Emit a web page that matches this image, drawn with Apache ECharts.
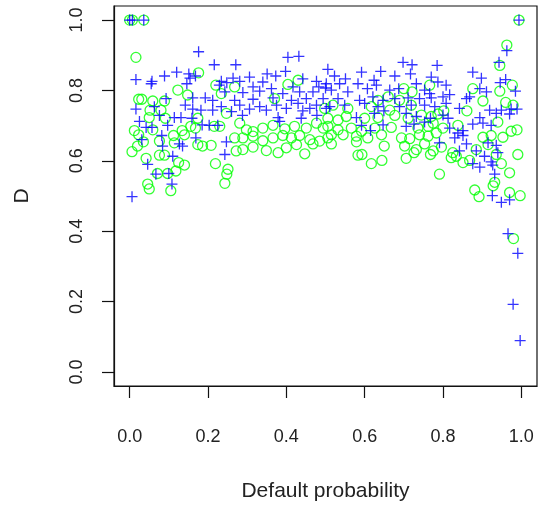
<!DOCTYPE html>
<html>
<head>
<meta charset="utf-8">
<script src="https://cdn.jsdelivr.net/npm/echarts@6/dist/echarts.min.js"></script>
<style>
  html, body { margin: 0; padding: 0; background: #fff; }
  #chart { width: 541px; height: 507px; }
</style>
</head>
<body>
<div id="chart"></div>
<script>
// Tick positions shared by both axes
const xTicks = [0, 0.2, 0.4, 0.6, 0.8, 1.0];
const yTicks = [0, 0.2, 0.4, 0.6, 0.8, 1.0];

// Blue "+" points: [default probability, D]
const bluePoints = [
  [0.000,1],[0.007,1],[0.036,1],[0.994,1],
  [0.176,0.910],[0.216,0.873],[0.016,0.831],[0.057,0.826],[0.089,0.841],[0.120,0.852],
  [0.151,0.847],[0.154,0.835],[0.168,0.841],[0.146,0.819],[0.229,0.815],[0.093,0.777],
  [0.161,0.779],[0.193,0.779],[0.212,0.772],[0.016,0.747],[0.063,0.754],[0.142,0.758],
  [0.161,0.747],[0.182,0.744],[0.212,0.744],[0.076,0.729],[0.114,0.723],[0.131,0.723],
  [0.159,0.721],[0.025,0.712],[0.042,0.695],[0.057,0.695],[0.097,0.701],[0.185,0.702],
  [0.203,0.701],[0.225,0.701],[0.082,0.672],[0.169,0.665],[0.031,0.660],[0.084,0.642],
  [0.127,0.648],[0.135,0.642],[0.110,0.613],[0.046,0.590],[0.067,0.562],[0.100,0.564],
  [0.108,0.534],[0.006,0.498],[0.055,0.819],
  [0.404,0.894],[0.432,0.897],[0.271,0.873],[0.398,0.854],[0.351,0.847],[0.373,0.841],
  [0.264,0.835],[0.306,0.838],[0.234,0.826],[0.248,0.822],[0.281,0.826],[0.340,0.824],
  [0.442,0.833],[0.477,0.826],[0.506,0.860],[0.315,0.810],[0.362,0.805],[0.417,0.810],
  [0.483,0.810],[0.500,0.807],[0.243,0.796],[0.289,0.794],[0.332,0.798],[0.391,0.791],
  [0.434,0.796],[0.468,0.796],[0.268,0.772],[0.315,0.775],[0.366,0.779],[0.413,0.772],
  [0.451,0.777],[0.494,0.777],[0.234,0.754],[0.281,0.758],[0.332,0.754],[0.375,0.758],
  [0.400,0.749],[0.430,0.763],[0.477,0.758],[0.260,0.740],[0.306,0.747],[0.349,0.744],
  [0.442,0.742],[0.460,0.749],[0.502,0.749],[0.288,0.729],[0.379,0.723],[0.438,0.721],
  [0.478,0.729],[0.247,0.654],[0.243,0.618],[0.383,0.712],
  [0.698,0.880],[0.721,0.873],[0.592,0.852],[0.641,0.854],[0.677,0.841],[0.717,0.847],
  [0.523,0.841],[0.551,0.833],[0.624,0.829],[0.502,0.819],[0.536,0.819],[0.583,0.819],
  [0.630,0.815],[0.732,0.819],[0.785,0.871],[0.515,0.801],[0.557,0.796],[0.607,0.805],
  [0.664,0.801],[0.687,0.805],[0.753,0.801],[0.532,0.777],[0.587,0.772],[0.621,0.782],
  [0.647,0.772],[0.677,0.777],[0.711,0.779],[0.740,0.777],[0.770,0.779],[0.511,0.754],
  [0.549,0.758],[0.600,0.763],[0.634,0.754],[0.689,0.754],[0.719,0.758],[0.753,0.758],
  [0.579,0.723],[0.625,0.735],[0.649,0.742],[0.706,0.735],[0.732,0.726],[0.768,0.721],
  [0.592,0.701],[0.615,0.686],[0.647,0.702],[0.706,0.698],[0.726,0.704],[0.753,0.710],
  [0.963,0.913],[0.943,0.880],[0.876,0.852],[0.898,0.835],[0.770,0.838],[0.787,0.824],
  [0.808,0.815],[0.960,0.831],[0.946,0.822],[0.894,0.805],[0.911,0.796],[0.985,0.798],
  [0.766,0.791],[0.800,0.782],[0.817,0.788],[0.860,0.777],[0.868,0.782],[0.779,0.754],
  [0.808,0.763],[0.842,0.749],[0.919,0.744],[0.949,0.744],[0.974,0.747],[0.989,0.747],
  [0.800,0.730],[0.813,0.721],[0.894,0.723],[0.936,0.735],[0.970,0.733],[0.817,0.693],
  [0.838,0.679],[0.876,0.704],[0.902,0.707],[0.923,0.701],[0.851,0.686],[0.791,0.651],
  [0.830,0.665],[0.851,0.672],[0.860,0.648],[0.915,0.651],[0.936,0.644],[0.842,0.628],
  [0.885,0.628],[0.906,0.613],[0.923,0.597],[0.940,0.623],[0.876,0.592],[0.894,0.582],
  [0.927,0.588],[0.932,0.562],[0.926,0.501],[0.949,0.482],[0.970,0.489],[0.966,0.393],
  [0.991,0.337],[0.979,0.192],[0.997,0.089]
];

// Green "o" points: [default probability, D]
const greenPoints = [
  [0.000,1],[0.007,1],[0.036,1],[0.994,1],
  [0.016,0.894],[0.176,0.850],[0.123,0.801],[0.023,0.775],[0.031,0.775],[0.059,0.770],
  [0.089,0.770],[0.148,0.787],[0.220,0.815],[0.052,0.744],[0.080,0.744],[0.050,0.723],
  [0.091,0.721],[0.174,0.721],[0.156,0.698],[0.168,0.693],[0.134,0.686],[0.012,0.686],
  [0.059,0.688],[0.023,0.674],[0.112,0.672],[0.140,0.674],[0.216,0.698],[0.035,0.654],
  [0.076,0.656],[0.114,0.651],[0.174,0.646],[0.186,0.642],[0.208,0.644],[0.020,0.642],
  [0.006,0.626],[0.076,0.616],[0.089,0.616],[0.042,0.607],[0.125,0.595],[0.140,0.588],
  [0.219,0.592],[0.071,0.564],[0.097,0.564],[0.118,0.571],[0.046,0.534],[0.050,0.520],
  [0.105,0.515],
  [0.430,0.829],[0.404,0.817],[0.268,0.810],[0.234,0.791],[0.370,0.777],[0.247,0.735],
  [0.230,0.698],[0.281,0.707],[0.298,0.688],[0.315,0.683],[0.340,0.693],[0.366,0.701],
  [0.396,0.691],[0.421,0.698],[0.451,0.693],[0.477,0.707],[0.494,0.693],[0.506,0.698],
  [0.268,0.665],[0.289,0.665],[0.315,0.670],[0.340,0.657],[0.366,0.665],[0.391,0.672],
  [0.413,0.665],[0.434,0.672],[0.460,0.660],[0.485,0.656],[0.506,0.665],[0.272,0.628],
  [0.289,0.632],[0.315,0.639],[0.349,0.629],[0.379,0.623],[0.400,0.637],[0.426,0.646],
  [0.447,0.620],[0.468,0.648],[0.251,0.576],[0.248,0.562],[0.243,0.536],
  [0.700,0.805],[0.721,0.796],[0.634,0.772],[0.660,0.782],[0.689,0.772],[0.498,0.749],
  [0.519,0.758],[0.557,0.749],[0.617,0.754],[0.664,0.744],[0.719,0.758],[0.506,0.721],
  [0.532,0.716],[0.553,0.726],[0.600,0.721],[0.634,0.723],[0.677,0.729],[0.711,0.721],
  [0.745,0.730],[0.770,0.726],[0.532,0.688],[0.566,0.693],[0.592,0.684],[0.626,0.693],
  [0.668,0.695],[0.736,0.693],[0.762,0.698],[0.515,0.674],[0.545,0.674],[0.579,0.670],
  [0.608,0.665],[0.643,0.674],[0.694,0.665],[0.740,0.674],[0.762,0.670],[0.515,0.648],
  [0.579,0.654],[0.650,0.642],[0.715,0.663],[0.702,0.642],[0.753,0.648],[0.583,0.616],
  [0.593,0.618],[0.706,0.607],[0.726,0.623],[0.732,0.632],[0.768,0.618],[0.617,0.592],
  [0.644,0.601],
  [0.963,0.929],[0.945,0.871],[0.876,0.805],[0.977,0.815],[0.945,0.798],[0.766,0.815],
  [0.902,0.770],[0.960,0.766],[0.979,0.758],[0.861,0.742],[0.787,0.733],[0.802,0.742],
  [0.940,0.710],[0.783,0.679],[0.775,0.707],[0.800,0.693],[0.838,0.701],[0.902,0.667],
  [0.923,0.672],[0.953,0.667],[0.974,0.684],[0.989,0.688],[0.796,0.639],[0.825,0.623],
  [0.834,0.613],[0.821,0.609],[0.885,0.632],[0.868,0.601],[0.851,0.595],[0.775,0.628],
  [0.915,0.646],[0.936,0.618],[0.991,0.618],[0.949,0.592],[0.970,0.566],[0.791,0.562],
  [0.932,0.539],[0.928,0.529],[0.881,0.517],[0.892,0.498],[0.970,0.510],[0.997,0.501],
  [0.980,0.379]
];

const FONT = 'Liberation Sans, Arial, Helvetica, sans-serif';
const fmt = v => v.toFixed(1);
const INK = '#111';

const chart = echarts.init(document.getElementById('chart'), null, { renderer: 'canvas' });

chart.setOption({
  animation: false,
  backgroundColor: '#ffffff',
  grid: {
    left: 114, right: 4, top: 6, bottom: 116,
    show: true,
    borderColor: INK,
    borderWidth: 1.2,
    backgroundColor: 'transparent'
  },
  xAxis: {
    type: 'value',
    min: -0.04, max: 1.04,
    splitLine: { show: false },
    axisLine: { show: true, onZero: false, lineStyle: { color: INK, width: 1.2 } },
    axisTick: {
      show: true, inside: false, length: 12,
      customValues: xTicks,
      lineStyle: { color: INK, width: 1.2 }
    },
    axisLabel: {
      show: true, margin: 42,
      customValues: xTicks,
      formatter: fmt,
      color: '#222', fontFamily: FONT, fontSize: 18
    },
    name: 'Default probability',
    nameLocation: 'middle',
    nameGap: 95,
    nameTextStyle: { color: '#222', fontFamily: FONT, fontSize: 21 }
  },
  yAxis: {
    type: 'value',
    min: -0.04, max: 1.04,
    splitLine: { show: false },
    axisLine: { show: true, onZero: false, lineStyle: { color: INK, width: 1.2 } },
    axisTick: {
      show: true, inside: false, length: 12,
      customValues: yTicks,
      lineStyle: { color: INK, width: 1.2 }
    },
    axisLabel: {
      show: true, margin: 28, rotate: 90,
      customValues: yTicks,
      formatter: fmt,
      color: '#222', fontFamily: FONT, fontSize: 18
    },
    name: 'D',
    nameLocation: 'middle',
    nameGap: 81,
    nameRotate: 90,
    nameTextStyle: { color: '#222', fontFamily: FONT, fontSize: 21 }
  },
  series: [
    {
      name: 'green',
      type: 'scatter',
      data: greenPoints,
      symbol: 'circle',
      symbolSize: 10,
      itemStyle: { color: 'rgba(0,0,0,0)', borderColor: '#00ff00', borderWidth: 1.3 },
      emphasis: { disabled: true },
      silent: true
    },
    {
      name: 'blue',
      type: 'scatter',
      data: bluePoints,
      symbol: 'path://M0 5L10 5M5 0L5 10',
      symbolSize: 11,
      itemStyle: { color: 'rgba(0,0,0,0)', borderColor: '#0000ff', borderWidth: 1.3 },
      emphasis: { disabled: true },
      silent: true
    }
  ]
});
</script>
</body>
</html>
